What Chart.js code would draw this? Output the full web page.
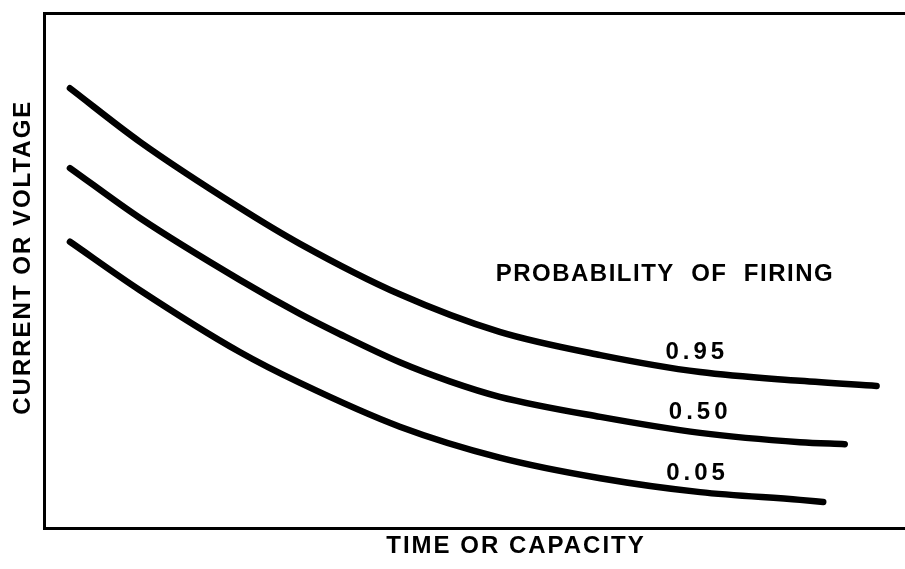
<!DOCTYPE html>
<html>
<head>
<meta charset="utf-8">
<script src="https://cdn.jsdelivr.net/npm/chart.js@4.4.1/dist/chart.umd.min.js"></script>
<style>
  html, body { margin: 0; padding: 0; background: #fff; }
  canvas { display: block; }
</style>
</head>
<body>
<canvas id="chart" width="905" height="569"></canvas>
<script>
// Curves (arbitrary units, 0-100 on both axes)
const curveNames = ['0.95', '0.50', '0.05'];

const p95X = [2.97, 11.1, 22.7, 29.7, 41.3, 52.9, 64.6, 76.2, 87.8, 96.7];
const p95Y = [85.4, 75.0, 62.2, 55.2, 45.4, 38.1, 33.6, 30.3, 28.6, 27.6];

const p50X = [2.97, 11.1, 22.7, 29.7, 34.3, 41.3, 47.1, 52.9, 64.6, 76.2, 87.8, 93.0];
const p50Y = [69.9, 60.2, 48.2, 41.6, 37.7, 32.2, 28.5, 25.5, 21.6, 18.5, 16.7, 16.3];

const p05X = [2.97, 11.1, 22.7, 29.7, 41.3, 52.9, 64.6, 76.2, 87.8, 90.5];
const p05Y = [55.6, 46.2, 34.2, 28.2, 19.7, 13.7, 9.7, 7.0, 5.5, 5.1];

// Text written on the plot
const noteTexts = ['PROBABILITY  OF  FIRING', '0.95', '0.50', '0.05'];
const noteX = [72.1, 75.8, 76.2, 75.9];
const noteY = [49.2, 34.2, 22.4, 10.7];
const noteSpacing = ['1.5px', '4px', '4px', '4px'];

// Axis titles and where they sit along their axis
const xTitle = 'TIME OR CAPACITY';
const yTitle = 'CURRENT OR VOLTAGE';
const xTitleAt = 54.8;
const yTitleAt = 52.6;

const FONT = "'Liberation Sans', Arial, sans-serif";

function toPoints(xs, ys) {
  return xs.map((x, i) => ({ x: x, y: ys[i] }));
}

const notes = {
  id: 'notes',
  afterDatasetsDraw(chart) {
    const ctx = chart.ctx;
    const xs = chart.scales.x, ys = chart.scales.y;
    const area = chart.chartArea;
    ctx.save();
    ctx.fillStyle = '#000';
    ctx.font = 'bold 24px ' + FONT;
    ctx.textAlign = 'center';
    ctx.textBaseline = 'middle';
    noteTexts.forEach((t, i) => {
      ctx.letterSpacing = noteSpacing[i];
      ctx.fillText(t, xs.getPixelForValue(noteX[i]), ys.getPixelForValue(noteY[i]));
    });

    // axis titles
    ctx.letterSpacing = '2px';
    ctx.fillText(xTitle, xs.getPixelForValue(xTitleAt), area.bottom + 18);
    ctx.translate(area.left - 21, ys.getPixelForValue(yTitleAt));
    ctx.rotate(-Math.PI / 2);
    ctx.fillText(yTitle, 0, 0);
    ctx.restore();
  }
};

const series = [toPoints(p95X, p95Y), toPoints(p50X, p50Y), toPoints(p05X, p05Y)];

new Chart(document.getElementById('chart'), {
  type: 'line',
  data: {
    datasets: series.map((pts, i) => ({
      label: curveNames[i],
      data: pts,
      borderColor: '#000',
      borderWidth: 6.5,
      borderCapStyle: 'round',
      borderJoinStyle: 'round',
      pointRadius: 0,
      cubicInterpolationMode: 'monotone',
      fill: false
    }))
  },
  options: {
    responsive: false,
    animation: false,
    layout: { padding: { top: 13, right: 0, bottom: 40.8, left: 44.4 } },
    plugins: { legend: { display: false }, tooltip: { enabled: false } },
    scales: {
      x: {
        type: 'linear', min: 0, max: 100, position: 'bottom',
        grid: { display: false, drawTicks: false },
        border: { display: true, width: 3, color: '#000' },
        ticks: { display: false }
      },
      x2: {
        type: 'linear', min: 0, max: 100, position: 'top',
        grid: { display: false, drawTicks: false },
        border: { display: true, width: 3, color: '#000' },
        ticks: { display: false }
      },
      y: {
        type: 'linear', min: 0, max: 100,
        grid: { display: false, drawTicks: false },
        border: { display: true, width: 3, color: '#000' },
        ticks: { display: false }
      }
    }
  },
  plugins: [notes]
});
</script>
</body>
</html>
